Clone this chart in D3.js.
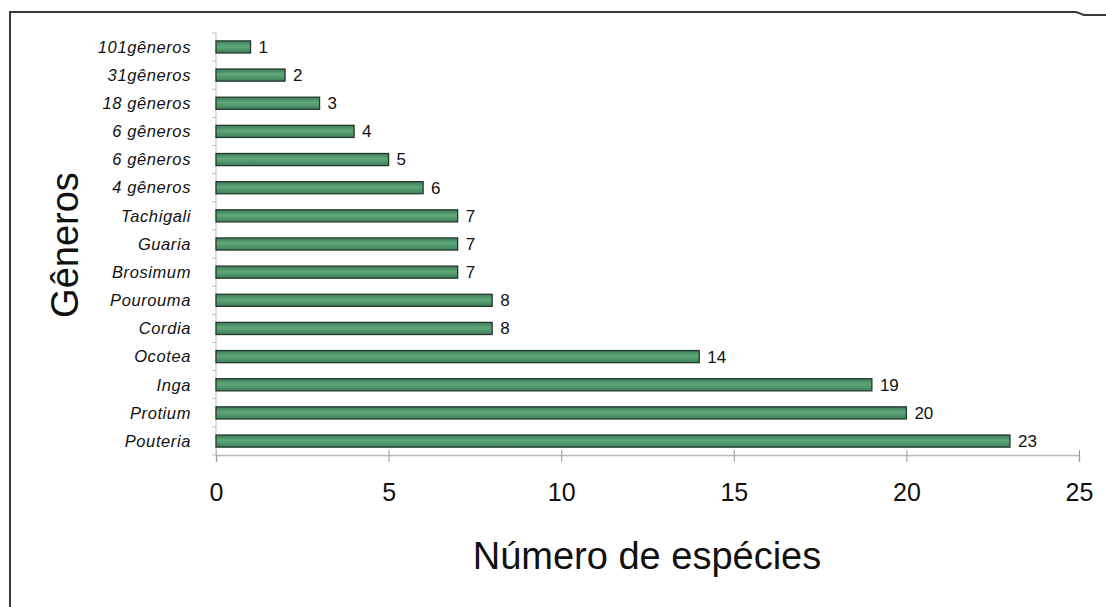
<!DOCTYPE html>
<html><head><meta charset="utf-8">
<script src="https://cdn.jsdelivr.net/npm/d3@7"></script>
<style>body{margin:0;background:#fff}svg{display:block}</style>
</head><body>
<script>
const categories = ["101gêneros","31gêneros","18 gêneros","6 gêneros","6 gêneros","4 gêneros","Tachigali","Guaria","Brosimum","Pourouma","Cordia","Ocotea","Inga","Protium","Pouteria"];
const values = [1,2,3,4,5,6,7,7,7,8,8,14,19,20,23];
const xTicks = [0,5,10,15,20,25];

const W=1106,H=607;
const svg=d3.select("body").append("svg").attr("width",W).attr("height",H);
const defs=svg.append("defs");
const g=defs.append("linearGradient").attr("id","bg").attr("x1",0).attr("y1",0).attr("x2",0).attr("y2",1);
g.append("stop").attr("offset","0%").attr("stop-color","#3e7b58");
g.append("stop").attr("offset","45%").attr("stop-color","#5da97a");
g.append("stop").attr("offset","100%").attr("stop-color","#3f7f59");

// frame
svg.append("path").attr("d","M10,607 L10,12 L1076,12 L1084,15 L1106,15")
  .attr("fill","none").attr("stroke","#3a3a3a").attr("stroke-width",2);

const x=d3.scaleLinear().domain([0,25]).range([216,1079]);
const idx=categories.map((d,i)=>i);
const y=d3.scaleBand().domain(idx).range([33,455]).paddingInner(0.57).paddingOuter(0.28);

// x axis
const xa=svg.append("g").attr("transform","translate(0,455)")
  .call(d3.axisBottom(x).tickValues(xTicks).tickSize(7).tickPadding(21));
xa.select(".domain").attr("stroke","#bbb").attr("stroke-width",1.5);
xa.selectAll(".tick line").attr("stroke","#999").attr("y1",-5);
xa.selectAll("text").attr("font-family","Liberation Sans, Arial, sans-serif").attr("font-size",25).attr("fill","#111");

// y axis
const yb=d3.scaleBand().domain(idx).range([33,455]);
svg.append("line").attr("x1",216).attr("x2",216).attr("y1",33).attr("y2",455).attr("stroke","#ccc").attr("stroke-width",1.2);
svg.selectAll(".yt").data(d3.range(16)).join("line")
  .attr("x1",212).attr("x2",216)
  .attr("y1",d=>33+d*yb.step()).attr("y2",d=>33+d*yb.step())
  .attr("stroke","#bbb");

// category labels
svg.selectAll(".cl").data(idx).join("text")
  .attr("x",191).attr("y",d=>y(d)+y.bandwidth()/2).attr("dy","0.35em")
  .attr("text-anchor","end").attr("font-family","Liberation Sans, Arial, sans-serif")
  .attr("font-style","italic").attr("font-size",16.5).attr("letter-spacing","0.6px").attr("fill","#111")
  .text(d=>categories[d]);

// bars
svg.selectAll(".bar").data(idx).join("rect")
  .attr("x",x(0)).attr("y",d=>y(d)).attr("width",d=>x(values[d])-x(0)).attr("height",y.bandwidth())
  .attr("fill","url(#bg)").attr("stroke","#24392d").attr("stroke-width",1.3);

// value labels
svg.selectAll(".vl").data(idx).join("text")
  .attr("x",d=>x(values[d])+8).attr("y",d=>y(d)+y.bandwidth()/2).attr("dy","0.35em")
  .attr("font-family","Liberation Sans, Arial, sans-serif").attr("font-size",17).attr("fill","#111")
  .text(d=>values[d]);

// titles
svg.append("text").attr("x",647).attr("y",569).attr("text-anchor","middle")
  .attr("font-family","Liberation Sans, Arial, sans-serif").attr("font-size",38).attr("fill","#111")
  .text("Número de espécies");
svg.append("text").attr("transform","translate(78,245) rotate(-90)").attr("text-anchor","middle")
  .attr("font-family","Liberation Sans, Arial, sans-serif").attr("font-size",38).attr("fill","#111")
  .text("Gêneros");
</script>
</body></html>
